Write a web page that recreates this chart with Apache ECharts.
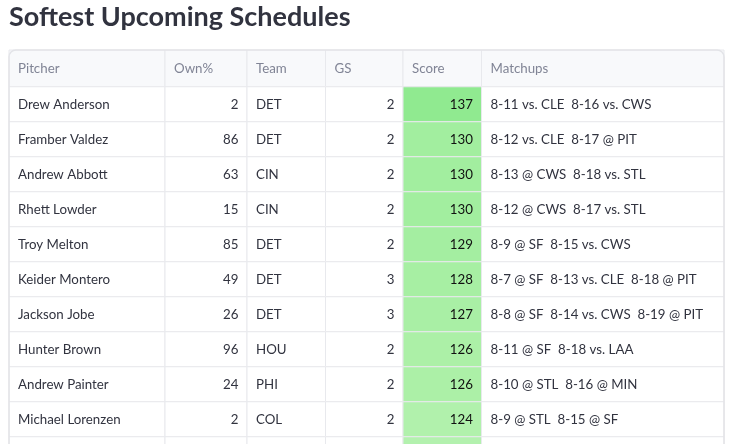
<!DOCTYPE html>
<html><head><meta charset="utf-8">
<script src="https://cdn.jsdelivr.net/npm/echarts@6/dist/echarts.min.js"></script>
<style>html,body{margin:0;padding:0;background:#fff}#c{width:734px;height:444px}</style>
</head><body><div id="c"></div>
<script>
const headers = ['Pitcher', 'Own%', 'Team', 'GS', 'Score', 'Matchups'];
const pitchers = ['Drew Anderson', 'Framber Valdez', 'Andrew Abbott', 'Rhett Lowder', 'Troy Melton', 'Keider Montero', 'Jackson Jobe', 'Hunter Brown', 'Andrew Painter', 'Michael Lorenzen', ''];
const ownPct = [2, 86, 63, 15, 85, 49, 26, 96, 24, 2, ''];
const teams = ['DET', 'DET', 'CIN', 'CIN', 'DET', 'DET', 'DET', 'HOU', 'PHI', 'COL', ''];
const gs = [2, 2, 2, 2, 2, 3, 3, 2, 2, 2, ''];
const scores = [137, 130, 130, 130, 129, 128, 127, 126, 126, 124, 123];
const matchups = [
  '8-11 vs. CLE  8-16 vs. CWS',
  '8-12 vs. CLE  8-17 @ PIT',
  '8-13 @ CWS  8-18 vs. STL',
  '8-12 @ CWS  8-17 vs. STL',
  '8-9 @ SF  8-15 vs. CWS',
  '8-7 @ SF  8-13 vs. CLE  8-18 @ PIT',
  '8-8 @ SF  8-14 vs. CWS  8-19 @ PIT',
  '8-11 @ SF  8-18 vs. LAA',
  '8-10 @ STL  8-16 @ MIN',
  '8-9 @ STL  8-15 @ SF',
  ''
];

// layout (not data)
const colEdges = [0, 156, 238, 316.5, 394, 472.5, 715];
const numericCols = [1, 3, 4];
const HEADER_TOP = -1.05;
const ROW_PX = 35;
const GRID_H = 394;
const Y_MAX = HEADER_TOP + GRID_H / ROW_PX;
const FONT = 'Lato';

const columns = [pitchers, ownPct, teams, gs, scores, matchups];
const sMin = 122, sMax = 137;
function scoreColor(v) {
  const t = Math.max(0, Math.min(1, (v - sMin) / (sMax - sMin)));
  return echarts.color.lerp(t, ['#b6f2b0', '#90ea90']);
}

const cells = [];
headers.forEach((h, c) => cells.push([c, -1, h]));
for (let r = 0; r < pitchers.length; r++) {
  for (let c = 0; c < headers.length; c++) {
    cells.push([c, r, String(columns[c][r])]);
  }
}

const chart = echarts.init(document.getElementById('c'), null, { renderer: 'canvas' });
chart.setOption({
  animation: false,
  title: {
    text: 'Softest Upcoming Schedules',
    left: 4, top: -1,
    textStyle: { fontFamily: FONT, fontSize: 27, fontWeight: 'bold', color: '#31333f' }
  },
  grid: { left: 9, top: 50, width: 715, height: GRID_H },
  xAxis: { type: 'value', min: 0, max: 715, show: false },
  yAxis: { type: 'value', min: HEADER_TOP, max: Y_MAX, inverse: true, show: false },
  series: [
    {
      type: 'custom',
      clip: false,
      data: cells,
      renderItem: function (params, api) {
        const c = api.value(0), r = api.value(1);
        const text = cells[params.dataIndex][2];
        const top = r < 0 ? HEADER_TOP : r;
        const bot = r < 0 ? 0 : r + 1;
        const p0 = api.coord([colEdges[c], top]);
        const p1 = api.coord([colEdges[c + 1], bot]);
        let fill = '#ffffff';
        if (r < 0) fill = '#f8f9fb';
        else if (c === 4) fill = scoreColor(scores[r]);
        const isNum = r >= 0 && numericCols.indexOf(c) >= 0;
        const tx = isNum ? p1[0] - 8.5 : p0[0] + 9;
        const ty = (p0[1] + p1[1]) / 2 + (r < 0 ? 0.5 : 0);
        return {
          type: 'group',
          children: [
            {
              type: 'rect',
              shape: { x: p0[0], y: p0[1], width: p1[0] - p0[0], height: p1[1] - p0[1] },
              style: { fill: fill, stroke: '#e8e9ed', lineWidth: 1 }
            },
            {
              type: 'text',
              x: tx, y: ty,
              style: {
                text: text,
                fontFamily: FONT,
                fontSize: 13.3,
                fill: r < 0 ? '#808495' : (c === 4 ? '#111111' : '#31333f'),
                align: isNum ? 'right' : 'left',
                verticalAlign: 'middle'
              }
            }
          ]
        };
      }
    },
    {
      type: 'custom',
      clip: false,
      data: [[0, HEADER_TOP]],
      renderItem: function (params, api) {
        const p0 = api.coord([colEdges[0], HEADER_TOP]);
        const p1 = api.coord([colEdges[colEdges.length - 1], 11]);
        return {
          type: 'rect',
          shape: { x: p0[0], y: p0[1], width: p1[0] - p0[0], height: p1[1] - p0[1], r: [7, 7, 0, 0] },
          style: { fill: 'none', stroke: '#e3e4e8', lineWidth: 1.5 }
        };
      }
    }
  ]
});
</script>
</body></html>
